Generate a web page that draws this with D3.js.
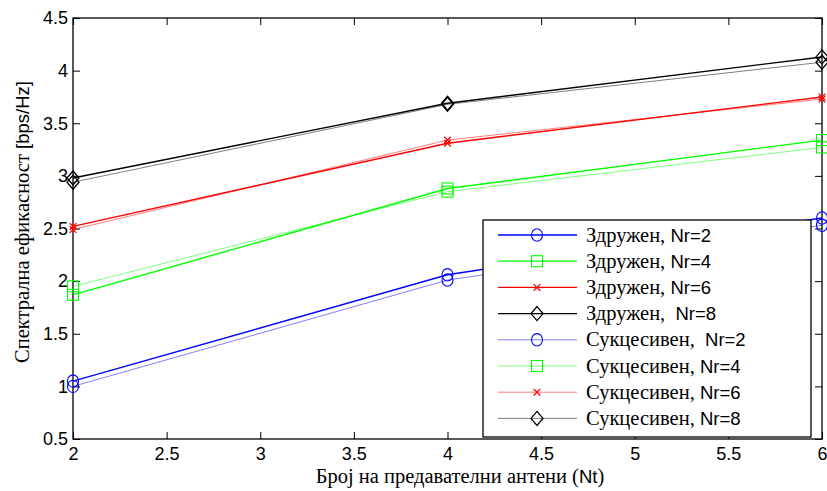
<!DOCTYPE html>
<html>
<head>
<meta charset="utf-8">
<script src="https://cdn.jsdelivr.net/npm/d3@7"></script>
<style>
  html, body { margin: 0; padding: 0; background: #fff; }
  svg { display: block; }
  text { white-space: pre; }
  .serif { font-family: "Liberation Serif", "DejaVu Serif", "Times New Roman", serif; }
  .sans { font-family: "Liberation Sans", Arial, sans-serif; }
</style>
</head>
<body>
<svg id="chart" width="827" height="491"></svg>
<script>
// Number of transmit antennas (x axis)
const antennas = [2, 4, 6];

// Spectral efficiency, joint scheme
const joint2 = [1.05, 2.06, 2.60];
const joint4 = [1.87, 2.88, 3.34];
const joint6 = [2.52, 3.31, 3.75];
const joint8 = [2.98, 3.69, 4.13];

// Spectral efficiency, successive scheme
const succ2 = [1.00, 2.01, 2.53];
const succ4 = [1.95, 2.85, 3.27];
const succ6 = [2.49, 3.34, 3.73];
const succ8 = [2.94, 3.68, 4.08];

const xTicks = [2, 2.5, 3, 3.5, 4, 4.5, 5, 5.5, 6];
const yTicks = [0.5, 1, 1.5, 2, 2.5, 3, 3.5, 4, 4.5];

const legendNames = [
  ["Здружен, ", "Nr=2"],
  ["Здружен, ", "Nr=4"],
  ["Здружен, ", "Nr=6"],
  ["Здружен,  ", "Nr=8"],
  ["Сукцесивен,  ", "Nr=2"],
  ["Сукцесивен, ", "Nr=4"],
  ["Сукцесивен, ", "Nr=6"],
  ["Сукцесивен, ", "Nr=8"]
];

const series = [
  { values: joint2, color: "#0000ff", marker: "circle", light: false },
  { values: joint4, color: "#00ff00", marker: "square", light: false },
  { values: joint6, color: "#ff0000", marker: "x", light: false },
  { values: joint8, color: "#000000", marker: "diamond", light: false },
  { values: succ2, color: "#0000ff", marker: "circle", light: true },
  { values: succ4, color: "#00ff00", marker: "square", light: true },
  { values: succ6, color: "#ff0000", marker: "x", light: true },
  { values: succ8, color: "#000000", marker: "diamond", light: true }
];

const SERIF_SIZE = 20.5;
const SANS_SIZE = 18.5;
const TICK_SIZE = 18;

const svg = d3.select("#chart");
const plot = { left: 73, right: 822, top: 18, bottom: 439 };

const x = d3.scaleLinear().domain([2, 6]).range([plot.left, plot.right]);
const y = d3.scaleLinear().domain([0.5, 4.5]).range([plot.bottom, plot.top]);

const tickLen = 7;

// Axes with inward ticks on all four sides
const gx = svg.append("g").attr("transform", `translate(0,${plot.bottom})`)
  .call(d3.axisBottom(x).tickValues(xTicks).tickFormat(d3.format("")).tickSizeInner(-tickLen).tickSizeOuter(0).tickPadding(8));
const gxTop = svg.append("g").attr("transform", `translate(0,${plot.top})`)
  .call(d3.axisTop(x).tickValues(xTicks).tickFormat("").tickSizeInner(-tickLen).tickSizeOuter(0));
const gy = svg.append("g").attr("transform", `translate(${plot.left},0)`)
  .call(d3.axisLeft(y).tickValues(yTicks).tickFormat(d3.format("")).tickSizeInner(-tickLen).tickSizeOuter(0).tickPadding(5));
const gyRight = svg.append("g").attr("transform", `translate(${plot.right},0)`)
  .call(d3.axisRight(y).tickValues(yTicks).tickFormat("").tickSizeInner(-tickLen).tickSizeOuter(0));

[gx, gxTop, gy, gyRight].forEach(g => {
  g.select(".domain").remove();
  g.attr("font-family", null).attr("font-size", null);
  g.selectAll(".tick line").attr("stroke", "#000").attr("stroke-width", 1);
  g.selectAll("text").attr("class", "sans").attr("font-size", TICK_SIZE).attr("fill", "#000");
});

// Plot frame
svg.append("rect")
  .attr("x", plot.left).attr("y", plot.top)
  .attr("width", plot.right - plot.left).attr("height", plot.bottom - plot.top)
  .attr("fill", "none").attr("stroke", "#000").attr("stroke-width", 1.3);

// Marker drawing
function drawMarker(g, type, cx, cy, color) {
  if (type === "circle") {
    g.append("ellipse").attr("cx", cx).attr("cy", cy).attr("rx", 5.5).attr("ry", 6.2)
      .attr("fill", "none").attr("stroke", color).attr("stroke-width", 1.1);
  } else if (type === "square") {
    g.append("rect").attr("x", cx - 5.5).attr("y", cy - 5.5).attr("width", 11).attr("height", 11)
      .attr("fill", "none").attr("stroke", color).attr("stroke-width", 1.1);
  } else if (type === "diamond") {
    g.append("path").attr("d", `M${cx},${cy - 7}L${cx + 6},${cy}L${cx},${cy + 7}L${cx - 6},${cy}Z`)
      .attr("fill", "none").attr("stroke", color).attr("stroke-width", 1.3);
  } else if (type === "x") {
    const s = 3.3;
    g.append("path").attr("d", `M${cx - s},${cy - s}L${cx + s},${cy + s}M${cx - s},${cy + s}L${cx + s},${cy - s}`)
      .attr("fill", "none").attr("stroke", color).attr("stroke-width", 1.3);
  }
}

const line = d3.line().x((d, i) => x(antennas[i])).y(d => y(d));

const gLines = svg.append("g");
// successive (light) lines first, then joint lines on top
[...series].sort((a, b) => (b.light ? 1 : 0) - (a.light ? 1 : 0)).forEach(s => {
  gLines.append("path").datum(s.values)
    .attr("d", line)
    .attr("fill", "none")
    .attr("stroke", s.color)
    .attr("stroke-opacity", s.light ? 0.5 : 1)
    .attr("stroke-width", s.light ? 1 : 1.4);
});
series.forEach(s => {
  s.values.forEach((v, i) => drawMarker(gLines, s.marker, x(antennas[i]), y(v), s.color));
});

// Legend
const leg = { x: 483, y: 220, w: 328, h: 217, row0: 235, step: 26.2 };
const gLeg = svg.append("g");
gLeg.append("rect").attr("x", leg.x).attr("y", leg.y).attr("width", leg.w).attr("height", leg.h)
  .attr("fill", "#fff").attr("stroke", "#000").attr("stroke-width", 1.3);
series.forEach((s, i) => {
  const cy = leg.row0 + i * leg.step;
  gLeg.append("line").attr("x1", 498).attr("x2", 577).attr("y1", cy).attr("y2", cy)
    .attr("stroke", s.color).attr("stroke-opacity", s.light ? 0.5 : 1)
    .attr("stroke-width", s.light ? 1 : 1.3);
  drawMarker(gLeg, s.marker, 537, cy, s.color);
  const t = gLeg.append("text").attr("x", 586).attr("y", cy + 6.5).attr("fill", "#000");
  t.append("tspan").attr("class", "serif").attr("font-size", SERIF_SIZE).text(legendNames[i][0]);
  t.append("tspan").attr("class", "sans").attr("font-size", SANS_SIZE).text(legendNames[i][1]);
});

// Axis titles
const xt = svg.append("text").attr("x", 460).attr("y", 483).attr("text-anchor", "middle").attr("fill", "#000");
xt.append("tspan").attr("class", "serif").attr("font-size", SERIF_SIZE).text("Број на предавателни антени (");
xt.append("tspan").attr("class", "sans").attr("font-size", SANS_SIZE).text("Nt");
xt.append("tspan").attr("class", "serif").attr("font-size", SERIF_SIZE).text(")");

const yt = svg.append("text").attr("transform", "translate(29,222) rotate(-90)").attr("text-anchor", "middle").attr("fill", "#000");
yt.append("tspan").attr("class", "serif").attr("font-size", SERIF_SIZE).text("Спектрална ефикасност ");
yt.append("tspan").attr("class", "sans").attr("font-size", SANS_SIZE).text("[bps/Hz]");
</script>
</body>
</html>
